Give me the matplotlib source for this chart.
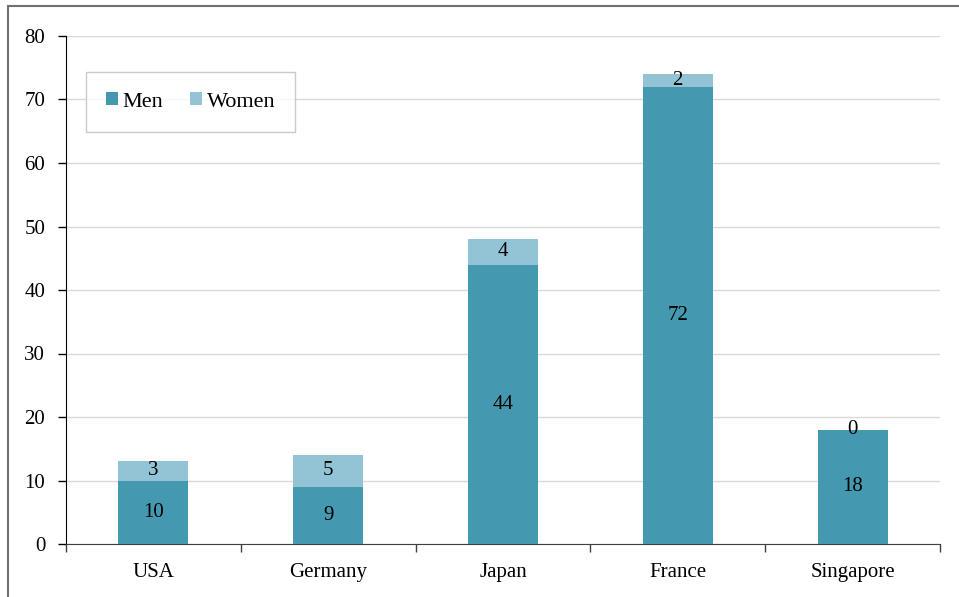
import matplotlib
matplotlib.use("Agg")
import matplotlib.pyplot as plt
from matplotlib.patches import Rectangle
import numpy as np

categories = ["USA", "Germany", "Japan", "France", "Singapore"]
men = [10, 9, 44, 72, 18]
women = [3, 5, 4, 2, 0]
yticks = [0, 10, 20, 30, 40, 50, 60, 70, 80]

plt.rcParams['font.family'] = ['Liberation Serif', 'DejaVu Serif']
FS = 15
plt.rcParams['font.size'] = FS

W, H = 959, 597
fig = plt.figure(figsize=(W/100, H/100), dpi=100)
ax = fig.add_axes([66/W, 1-544/H, (940-66)/W, (544-36)/H])

men_c = "#4499B0"
women_c = "#93C4D5"
x = np.arange(len(categories))
ax.bar(x, men, width=0.4, color=men_c, label="Men", zorder=3)
ax.bar(x, women, width=0.4, bottom=men, color=women_c, label="Women", zorder=3)

for i in range(len(categories)):
    ax.text(x[i], men[i]/2, str(men[i]), ha='center', va='center', fontsize=FS, zorder=4)
    ax.text(x[i], men[i] + women[i]/2, str(women[i]), ha='center', va='center', fontsize=FS, zorder=4)

ax.set_xlim(-0.5, len(categories)-0.5)
ax.set_ylim(0, 80)
ax.set_yticks(yticks)
ax.yaxis.grid(True, color="#d9d9d9", linewidth=1, zorder=0)
ax.set_axisbelow(True)

ax.set_xticks(x)
ax.set_xticklabels(categories)
ax.tick_params(axis='x', length=0, pad=14)
ax.set_xticks(np.arange(-0.5, len(categories)), minor=True)
ax.tick_params(axis='x', which='minor', length=6, width=1, color="#404040", direction='out')
ax.tick_params(axis='y', length=6, width=1, direction='out', pad=9)

for s in ['top', 'right']:
    ax.spines[s].set_visible(False)
ax.spines['left'].set_color('black')
ax.spines['bottom'].set_color('#404040')

leg = ax.legend(loc='upper left', bbox_to_anchor=((86-66)/(940-66), (544-72)/(544-36)),
                ncol=2, frameon=True, fancybox=False, edgecolor="#bfbfbf",
                handlelength=0.55, handleheight=0.55, handletextpad=0.2, columnspacing=1.2,
                borderpad=0.9, borderaxespad=0, fontsize=16)
leg.get_frame().set_linewidth(1)

fig.patches.append(Rectangle((8/W, -0.1), 1.2, 1 - 6/H + 0.1, transform=fig.transFigure,
                             fill=False, edgecolor="#707070", linewidth=1.5))

fig.savefig("out.png", dpi=100)
